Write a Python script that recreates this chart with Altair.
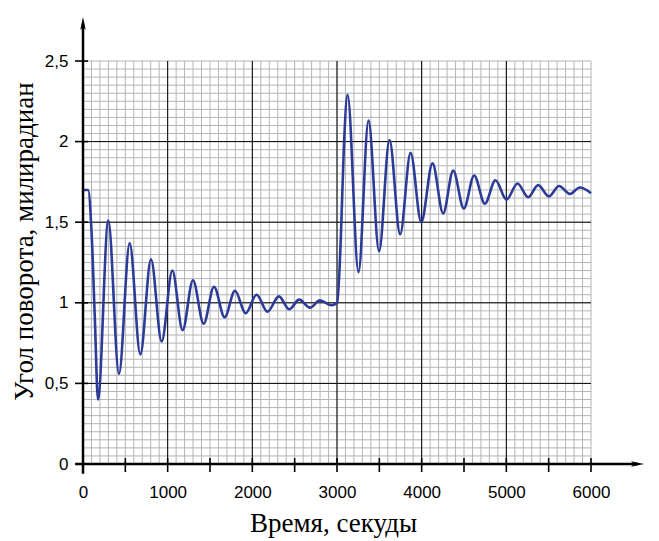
import altair as alt
import pandas as pd

# Values (extrema and a few points on the steep parts)
time_s = [0, 60, 100, 140, 177, 299, 425, 551, 677, 803, 929, 1055, 1176, 1299,
          1425, 1547, 1673, 1795, 1921, 2050, 2179, 2314, 2436, 2554, 2680, 2798,
          2936, 3002, 3045, 3080, 3125, 3254, 3372, 3497, 3620, 3746, 3869, 3995,
          4128, 4254, 4372, 4498, 4620, 4746, 4872, 5002, 5132, 5258, 5376, 5502,
          5623, 5750, 5868, 6000]
angle_mrad = [1.70, 1.70, 1.45, 0.90, 0.40, 1.51, 0.56, 1.37, 0.68, 1.27, 0.76,
              1.20, 0.83, 1.14, 0.87, 1.10, 0.91, 1.075, 0.935, 1.05, 0.945, 1.04,
              0.96, 1.02, 0.97, 1.015, 0.985, 1.00, 1.40, 1.95, 2.29, 1.19, 2.13,
              1.32, 2.01, 1.425, 1.93, 1.50, 1.865, 1.555, 1.82, 1.585, 1.79,
              1.615, 1.76, 1.64, 1.74, 1.655, 1.73, 1.66, 1.725, 1.675, 1.715, 1.68]

x_labels = [0, 1000, 2000, 3000, 4000, 5000, 6000]
y_labels = [0, 0.5, 1, 1.5, 2, 2.5]
x_tick_marks = list(range(0, 6001, 500))
x_minor = list(range(0, 6001, 100))
y_minor = [round(i * 0.05, 2) for i in range(51)]
x_major = [1000, 2000, 3000, 4000, 5000]
y_major = [0.5, 1.0, 1.5, 2.0]

W, H = 508, 403
xs = alt.Scale(domain=[0, 6000], nice=False, zero=False)
ys = alt.Scale(domain=[0, 2.5], nice=False, zero=False)
GRAY = "#b4b4b4"
LINE = "#2c3a98"

x_axis = alt.Axis(values=x_labels, title="Время, секуды", grid=False, ticks=False,
                  domain=False, format="d", labelFont="Liberation Sans", labelFontSize=17,
                  labelColor="black", labelPadding=20, labelFlush=False,
                  titleFont="Liberation Serif", titleFontSize=27,
                  titleFontWeight="normal", titleColor="black",
                  titleX=250, titleY=67, titleBaseline="alphabetic", titleAlign="center")
y_axis = alt.Axis(values=y_labels, title="Угол поворота, милирадиан", grid=False,
                  ticks=False, domain=False, labelFont="Liberation Sans",
                  labelFontSize=17, labelColor="black", labelPadding=15,
                  labelFlush=False,
                  labelExpr="replace(format(datum.value, '~g'), '.', ',')",
                  titleFont="Liberation Serif", titleFontSize=27,
                  titleFontWeight="normal", titleColor="black", titleAngle=-90,
                  titleX=-51, titleY=180, titleBaseline="alphabetic", titleAlign="center")


def X(field):
    return alt.X(field, scale=xs, axis=x_axis)


def Y(field):
    return alt.Y(field, scale=ys, axis=y_axis)


line = alt.Chart(pd.DataFrame({"t": time_s, "v": angle_mrad})).mark_line(
    color=LINE, strokeWidth=2.6, interpolate="monotone").encode(
    x=X("t:Q"), y=Y("v:Q"))

minor_x = alt.Chart(pd.DataFrame({"x": x_minor})).mark_rule(color=GRAY, strokeWidth=1).encode(
    x=X("x:Q"))
minor_y = alt.Chart(pd.DataFrame({"y": y_minor})).mark_rule(color=GRAY, strokeWidth=1).encode(
    y=Y("y:Q"))
major_x = alt.Chart(pd.DataFrame({"x": x_major})).mark_rule(color="black", strokeWidth=1).encode(
    x=X("x:Q"))
major_y = alt.Chart(pd.DataFrame({"y": y_major})).mark_rule(color="black", strokeWidth=1).encode(
    y=Y("y:Q"))

xticks = alt.Chart(pd.DataFrame({"x": x_tick_marks})).mark_rule(color="black", strokeWidth=1.6).encode(
    x=X("x:Q"), y=alt.value(H - 6), y2=alt.value(H + 8))
yticks = alt.Chart(pd.DataFrame({"y": y_labels})).mark_rule(color="black", strokeWidth=1.6).encode(
    y=Y("y:Q"), x=alt.value(-8), x2=alt.value(5))

x_line = alt.Chart(pd.DataFrame({"a": [-90], "b": [6550], "y": [0]})).mark_rule(
    color="black", strokeWidth=2.5).encode(x=X("a:Q"), x2="b:Q", y=Y("y:Q"))
y_line = alt.Chart(pd.DataFrame({"x": [0], "a": [-0.06], "b": [2.733]})).mark_rule(
    color="black", strokeWidth=2.5).encode(x=X("x:Q"), y=Y("a:Q"), y2="b:Q")

arrow_r = alt.Chart(pd.DataFrame({"x": [6550], "y": [0]})).mark_point(
    shape="M1,0 L-1,-0.42 L-0.55,0 L-1,0.42 Z", filled=True, color="black",
    opacity=1, size=170).encode(x=X("x:Q"), y=Y("y:Q"))
arrow_u = alt.Chart(pd.DataFrame({"x": [0], "y": [2.733]})).mark_point(
    shape="M0,-1 L-0.42,1 L0,0.55 L0.42,1 Z", filled=True, color="black",
    opacity=1, size=170).encode(x=X("x:Q"), y=Y("y:Q"))

chart = alt.layer(minor_x, minor_y, major_x, major_y, line, xticks, yticks,
                  x_line, y_line, arrow_r, arrow_u).properties(
    width=W, height=H,
    autosize=alt.AutoSizeParams(type="none"),
    padding={"left": 75, "top": 53, "right": 60, "bottom": 75},
    background="white",
).configure_view(stroke=None)

chart.save("out.html", embed_options={"renderer": "svg", "actions": False})
